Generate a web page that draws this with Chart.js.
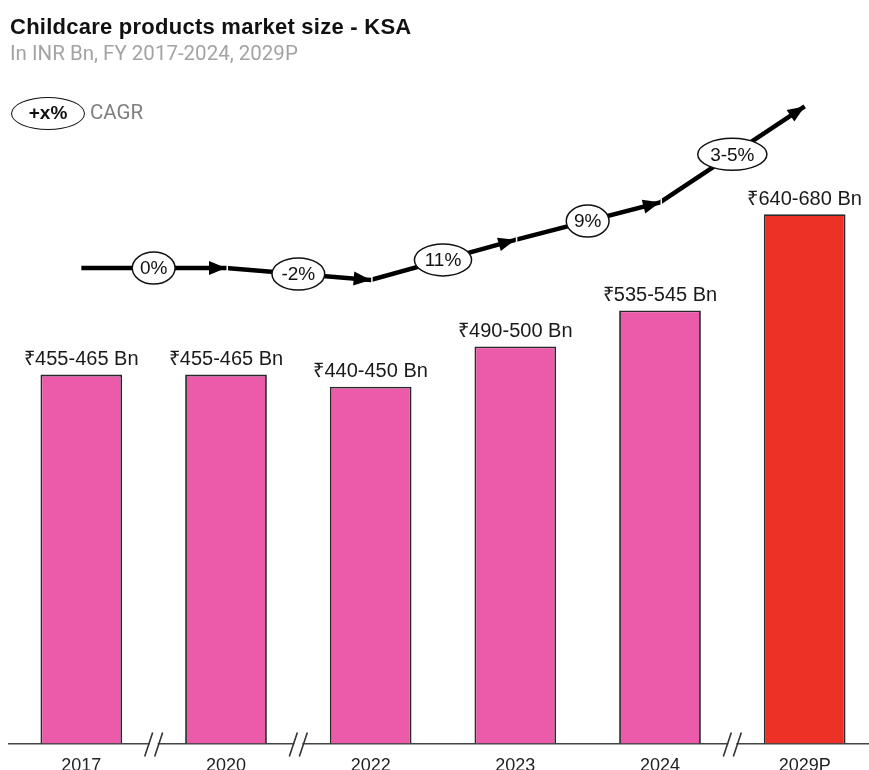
<!DOCTYPE html>
<html>
<head>
<meta charset="utf-8">
<script src="https://cdn.jsdelivr.net/npm/chart.js@4/dist/chart.umd.min.js"></script>
<style>
  html, body { margin: 0; padding: 0; background: #fff; overflow: hidden; width: 869px; height: 770px; }
  #wrap { position: absolute; left: 0; top: 0; width: 880px; height: 790px; }
  #title { position: absolute; left: 10px; top: 14px; font: bold 22px "Liberation Sans", Arial, sans-serif; color: #111; letter-spacing: 0.25px; white-space: nowrap; }
  #subtitle { position: absolute; left: 10px; top: 41px; font: 20.5px Roboto, "Liberation Sans", sans-serif; color: #a3a3a3; white-space: nowrap; }
  #legendOval { position: absolute; left: 11px; top: 97px; width: 74px; height: 33px; border: 1.5px solid #111; border-radius: 50%;
                box-sizing: border-box; text-align: center; font: bold 19px "Liberation Sans", Arial, sans-serif; line-height: 30px; color: #111; }
  #legendText { position: absolute; left: 90px; top: 100px; font: 20.5px Roboto, "Liberation Sans", sans-serif; color: #808080; }
</style>
</head>
<body>
<div id="wrap"><canvas id="chart" width="880" height="790"></canvas></div>
<div id="title">Childcare products market size - KSA</div>
<div id="subtitle">In INR Bn, FY 2017-2024, 2029P</div>
<div id="legendOval">+x%</div>
<div id="legendText">CAGR</div>

<script>
/* ---------- data ---------- */
const years        = ['2017', '2020', '2022', '2023', '2024', '2029P'];
const marketMid    = [460, 460, 445, 495, 540, 660];          // midpoint of each range, INR Bn
const marketLabels = ['₹455-465 Bn', '₹455-465 Bn', '₹440-450 Bn', '₹490-500 Bn', '₹535-545 Bn', '₹640-680 Bn'];
const barColors    = ['#EC5BAA', '#EC5BAA', '#EC5BAA', '#EC5BAA', '#EC5BAA', '#EE3127'];
const cagrLabels   = ['0%', '-2%', '11%', '9%', '3-5%'];      // between consecutive years
const trendLevels  = [72.3, 72.3, 70.5, 76.6, 82.3, 96.9];    // decorative CAGR arrow, hidden 0-100 scale
const breakAfter   = [0, 1, 4];                                // axis break after these categories

/* ---------- plugins ---------- */
const FONT = '"Liberation Sans", Arial, sans-serif';

const barLabels = {
  id: 'barLabels',
  afterDatasetsDraw(chart) {
    const ctx = chart.ctx;
    const meta = chart.getDatasetMeta(0);
    ctx.save();
    ctx.font = '20px ' + FONT;
    ctx.fillStyle = '#1a1a1a';
    ctx.textAlign = 'center';
    ctx.textBaseline = 'bottom';
    meta.data.forEach((bar, i) => {
      ctx.fillText(marketLabels[i], bar.x, bar.y - 5);
    });
    ctx.restore();
  }
};

const cagrArrows = {
  id: 'cagrArrows',
  afterDatasetsDraw(chart) {
    const ctx = chart.ctx;
    const pts = chart.getDatasetMeta(1).data;
    ctx.save();
    // arrow heads
    ctx.fillStyle = '#000';
    for (let i = 1; i < pts.length; i++) {
      const a = pts[i - 1], b = pts[i];
      const ang = Math.atan2(b.y - a.y, b.x - a.x);
      const len = 17, hw = 7;
      ctx.beginPath();
      ctx.moveTo(b.x, b.y);
      ctx.lineTo(b.x - len * Math.cos(ang) + hw * Math.sin(ang), b.y - len * Math.sin(ang) - hw * Math.cos(ang));
      ctx.lineTo(b.x - len * Math.cos(ang) - hw * Math.sin(ang), b.y - len * Math.sin(ang) + hw * Math.cos(ang));
      ctx.closePath();
      ctx.fill();
    }
    // little gaps between the segments
    ctx.fillStyle = '#fff';
    for (let i = 1; i < pts.length - 1; i++) {
      ctx.fillRect(pts[i].x + 0.5, pts[i].y - 4, 1.5, 8);
    }
    // oval labels
    ctx.font = '19px ' + FONT;
    ctx.textAlign = 'center';
    ctx.textBaseline = 'middle';
    for (let i = 0; i < cagrLabels.length; i++) {
      const a = pts[i], b = pts[i + 1];
      const cx = (a.x + b.x) / 2, cy = (a.y + b.y) / 2;
      const w = ctx.measureText(cagrLabels[i]).width;
      ctx.beginPath();
      ctx.ellipse(cx, cy, w * 0.78, 16, 0, 0, Math.PI * 2);
      ctx.fillStyle = '#fff';
      ctx.fill();
      ctx.lineWidth = 1.5;
      ctx.strokeStyle = '#111';
      ctx.stroke();
      ctx.fillStyle = '#111';
      ctx.fillText(cagrLabels[i], cx, cy + 1);
    }
    ctx.restore();
  }
};

const axisBreaks = {
  id: 'axisBreaks',
  afterDraw(chart) {
    const ctx = chart.ctx;
    const x = chart.scales.x;
    const y0 = chart.chartArea.bottom;
    ctx.save();
    breakAfter.forEach(i => {
      const mx = (x.getPixelForValue(i) + x.getPixelForValue(i + 1)) / 2;
      ctx.fillStyle = '#fff';
      ctx.fillRect(mx - 4, y0 - 3, 8, 6);
      ctx.strokeStyle = '#333';
      ctx.lineWidth = 1.6;
      [-5, 5].forEach(dx => {
        ctx.beginPath();
        ctx.moveTo(mx + dx - 4, y0 + 13);
        ctx.lineTo(mx + dx + 4, y0 - 11);
        ctx.stroke();
      });
    });
    ctx.restore();
  }
};

/* ---------- chart ---------- */
new Chart(document.getElementById('chart'), {
  data: {
    labels: years,
    datasets: [
      {
        type: 'bar',
        data: marketMid,
        backgroundColor: barColors,
        borderColor: '#2a2a2a',
        borderWidth: 1.8,
        categoryPercentage: 0.565,
        barPercentage: 1,
        yAxisID: 'y',
        order: 2
      },
      {
        type: 'line',
        data: trendLevels,
        borderColor: '#000',
        borderWidth: 4.5,
        tension: 0,
        pointRadius: 0,
        yAxisID: 'yt',
        order: 1
      }
    ]
  },
  options: {
    responsive: false,
    animation: false,
    devicePixelRatio: 1,
    layout: { padding: { top: 86, left: 9, right: 3, bottom: 1 } },
    plugins: { legend: { display: false }, tooltip: { enabled: false } },
    scales: {
      x: {
        grid: { display: false, drawTicks: false },
        border: { display: true, color: '#444', width: 1.5 },
        ticks: { padding: 12, color: '#222', font: { family: FONT, size: 18 } }
      },
      y:  { display: false, min: 0, max: 820 },
      yt: { display: false, min: 0, max: 100 }
    }
  },
  plugins: [barLabels, cagrArrows, axisBreaks]
});
</script>
</body>
</html>
